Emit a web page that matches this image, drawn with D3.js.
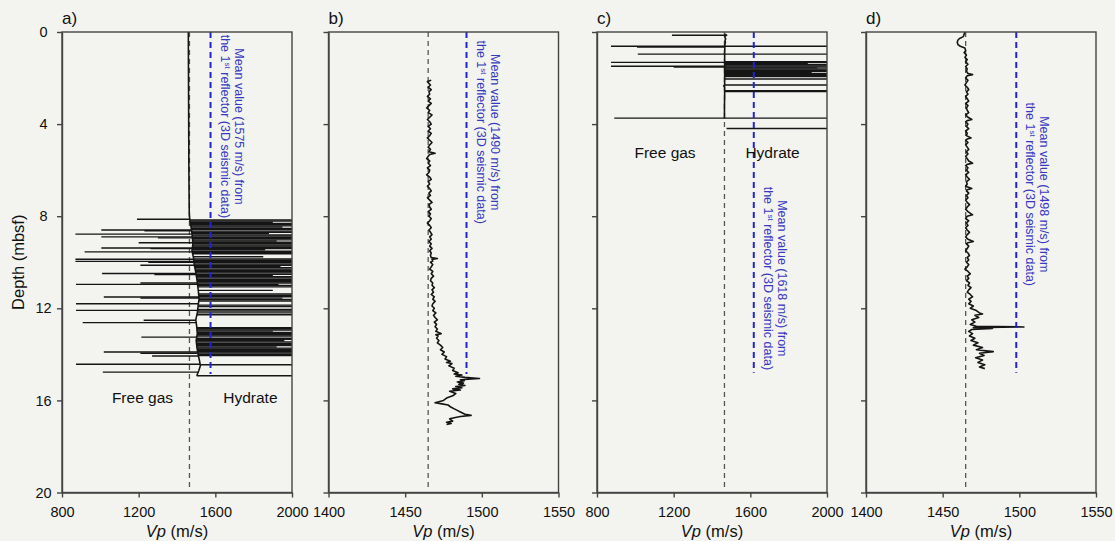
<!DOCTYPE html>
<html>
<head>
<meta charset="utf-8">
<script src="https://cdn.jsdelivr.net/npm/d3@7"></script>
<style>
  html, body { margin: 0; padding: 0; background: #f3f4f0; }
  svg { display: block; font-family: "Liberation Sans", Arial, Helvetica, sans-serif; }
</style>
</head>
<body>
<svg id="chart" width="1115" height="541"></svg>
<script>
// ---------------- data ----------------
const panelLetters = ["a)", "b)", "c)", "d)"];
const depthTicks = [0, 4, 8, 12, 16, 20];
const vpDomainWide = [800, 2000];
const vpDomainNarrow = [1400, 1550];
const vpTicksWide = [800, 1200, 1600, 2000];
const vpTicksNarrow = [1400, 1450, 1500, 1550];
const waterVp = 1465;                       // grey dashed reference velocity
const meanVp = [1575, 1490, 1618, 1498];    // mean value from the 1st reflector
const meanDepthEnd = [14.85, 14.85, 14.8, 14.8];
const zoneLabels = ["Free gas", "Hydrate"];

// panel a: velocity log trend [depth, Vp]
const logA = [[0,1459],[1,1459.5],[2,1460],[3,1460.5],[4,1461],[5,1461.5],[6,1462],[7,1463],[7.9,1464],
  [8.1,1466],[8.3,1470],[8.6,1476],[8.9,1480],[9.2,1483],[9.5,1478],[9.8,1486],[10.1,1490],[10.4,1497],
  [10.7,1503],[11.0,1508],[11.3,1512],[11.6,1515],[11.9,1510],[12.2,1506],[12.5,1498],[12.8,1503],
  [13.1,1506],[13.4,1500],[13.7,1504],[14.0,1510],[14.3,1518],[14.5,1522],[14.7,1514],[14.93,1503]];

// panel a: log spikes [depth, Vp at log, Vp at spike tip]
const spikesA = [
  [8.13,1467,1191],[8.60,1476,1005],[8.63,1476,1230],[8.78,1478,870],[8.90,1480,1005],[8.94,1480,1300],
  [9.15,1482,1200],[9.38,1480,1005],[9.41,1480,1262],[9.55,1479,918],[9.87,1486,870],[9.96,1488,870],
  [10.00,1489,1250],[10.13,1490,1209],[10.49,1498,1009],[10.53,1499,1282],[10.90,1506,1209],[10.96,1507,873],
  [11.51,1514,1018],[11.55,1514,1209],[11.80,1512,873],[12.09,1507,873],[12.52,1499,1226],[12.62,1500,908],
  [13.25,1503,1214],[13.90,1505,1018],[13.95,1506,1209],[14.07,1511,1270],[14.43,1521,873],[14.77,1512,1013],
  [8.16,1467,2200],[8.21,1468,2200],[8.26,1469,1900],[8.31,1470,2200],[8.37,1471,2200],[8.42,1472,2200],
  [8.47,1473,1950],[8.53,1474,2200],[8.58,1475,2200],[8.65,1476,2200],[8.70,1477,2200],[8.75,1478,1880],
  [8.81,1478,2200],[8.86,1479,2200],[8.92,1480,2200],[8.97,1481,2200],[9.03,1481,2200],[9.08,1482,1920],
  [9.13,1482,2200],[9.19,1483,2200],[9.25,1482,2200],[9.30,1481,2200],[9.35,1480,2200],[9.41,1480,2200],
  [9.46,1479,1860],[9.52,1478,2200],[9.58,1479,2200],[9.63,1481,2200],[9.76,1484,1850],
  [9.86,1486,2200],[9.91,1487,2200],[9.97,1488,2200],[10.02,1489,2200],[10.08,1490,2200],[10.13,1490,2200],
  [10.19,1491,1940],[10.24,1493,2200],[10.30,1494,2200],[10.35,1495,2200],[10.41,1496,2200],[10.46,1497,2200],
  [10.52,1499,2200],[10.57,1500,1900],[10.63,1501,2200],[10.68,1502,2200],[10.74,1504,2200],[10.79,1505,2200],
  [10.85,1506,2200],[10.90,1506,2200],[10.96,1507,1930],[11.01,1508,2200],[11.07,1509,2200],[11.22,1510,1900],
  [11.38,1512,2200],[11.44,1513,2200],[11.50,1514,2200],[11.56,1515,1950],[11.62,1515,2200],[11.68,1514,2200],
  [11.86,1511,2200],[11.92,1510,2200],[12.05,1508,2200],[12.12,1507,2200],[12.20,1506,2200],[12.28,1504,2200],
  [12.84,1503,2200],[12.89,1504,2200],[12.94,1504,2200],[12.99,1505,1900],[13.05,1505,2200],[13.10,1506,2200],
  [13.15,1505,2200],[13.20,1504,2200],[13.30,1502,2200],[13.35,1501,2200],[13.41,1500,1960],[13.46,1500,2200],
  [13.52,1501,2200],[13.57,1502,2200],[13.62,1503,2200],[13.68,1503,1920],[13.73,1504,2200],[13.78,1505,2200],
  [13.84,1506,2200],[13.89,1507,2200],[13.94,1507,2200],[14.00,1510,2200],[14.05,1511,2200],[14.45,1521,2200],
  [14.93,1503,2200]];

// panel b: velocity log [depth, Vp]
const logB = [[2.10,1467],[2.15,1464.5],[2.2,1465],[2.3,1466.5],[2.4,1465],[2.5,1467],[2.6,1465.5],[2.7,1466],
  [2.8,1464.5],[2.9,1466.5],[3.0,1465],[3.1,1467],[3.2,1465.5],[3.3,1464],[3.4,1466],[3.5,1465],[3.6,1467.5],
  [3.7,1466],[3.8,1464.5],[3.9,1466],[4.0,1467],[4.1,1465],[4.2,1466.5],[4.3,1465],[4.4,1467],[4.5,1466],
  [4.6,1464.5],[4.7,1466],[4.8,1467.5],[4.9,1466],[5.0,1465],[5.1,1466.5],[5.2,1465.5],[5.27,1469.5],[5.32,1466],
  [5.4,1465],[5.5,1464],[5.6,1466],[5.7,1465],[5.8,1466.5],[5.9,1464.5],[6.0,1466],[6.1,1465.5],[6.2,1464],
  [6.3,1466],[6.4,1467],[6.5,1465],[6.6,1466],[6.7,1464.5],[6.8,1466],[6.9,1467],[7.0,1465.5],[7.1,1466.5],
  [7.2,1464.5],[7.3,1466],[7.4,1467.5],[7.5,1465.5],[7.6,1466],[7.7,1467],[7.8,1465],[7.9,1466.5],[8.0,1465.5],
  [8.1,1467],[8.2,1466],[8.3,1464.5],[8.4,1466],[8.5,1467],[8.6,1465.5],[8.7,1466.5],[8.8,1467.5],[8.9,1466],
  [9.0,1467],[9.1,1465.5],[9.2,1467],[9.3,1466],[9.4,1467.5],[9.5,1466],[9.6,1467],[9.7,1466.5],[9.8,1467],
  [9.84,1471],[9.88,1467.5],[9.95,1468],[10.0,1466.5],[10.1,1468],[10.2,1467],[10.3,1466],[10.4,1468],[10.5,1467],
  [10.6,1468.5],[10.7,1467],[10.8,1466.5],[10.9,1468],[11.0,1467.5],[11.1,1469],[11.2,1467.5],[11.3,1468.5],
  [11.4,1467],[11.5,1469],[11.6,1468],[11.7,1469.5],[11.8,1468],[11.9,1467.5],[12.0,1469],[12.1,1468],[12.2,1470],
  [12.3,1468.5],[12.4,1469.5],[12.5,1471],[12.6,1469],[12.7,1470.5],[12.8,1469.5],[12.9,1471],[13.0,1470],
  [13.1,1473.5],[13.15,1470],[13.2,1471.5],[13.3,1470.5],[13.4,1472],[13.5,1471],[13.6,1473],[13.7,1474.5],
  [13.8,1473],[13.9,1475.5],[14.0,1474],[14.1,1477],[14.2,1476],[14.3,1479.5],[14.35,1477],[14.4,1480.5],
  [14.5,1478.5],[14.6,1482],[14.7,1481],[14.8,1484.5],[14.85,1482],[14.9,1487],[14.95,1483],[15.0,1489],
  [15.05,1498.5],[15.1,1486],[15.15,1488.5],[15.2,1484],[15.25,1488],[15.3,1485],[15.35,1489],[15.4,1483],
  [15.45,1487],[15.5,1481],[15.55,1486],[15.6,1479],[15.7,1483],[15.8,1481],[15.9,1477],[16.0,1475],[16.1,1469.5],
  [16.15,1474],[16.2,1478],[16.3,1480],[16.4,1483],[16.5,1486],[16.6,1489],[16.65,1493],[16.7,1486],[16.75,1482],
  [16.8,1479],[16.9,1481],[16.95,1477],[17.0,1480],[17.05,1477]];

// panel c: velocity log trend and spikes
const logC = [[0.08,1469],[0.12,1472],[0.14,1476],[0.16,1470],[0.22,1467],[0.30,1471],[0.38,1468],[0.45,1470],
  [0.55,1467],[0.70,1467],[0.90,1466],[1.20,1466],[1.60,1466],[2.00,1466],[2.30,1466],[2.34,1461],[2.38,1466],
  [2.80,1466],[3.20,1465],[3.76,1465]];
const spikesC = [
  [0.14,1474,1191],[0.62,1467,873],[0.65,1467,1009],[0.96,1466,1013],[1.32,1466,873],[1.49,1466,873],
  [1.52,1466,1200],[3.74,1465,890],
  [0.62,1467,2200],[0.96,1466,2200],[1.29,1466,2200],[1.33,1466,2200],[1.38,1466,1900],[1.42,1466,2200],
  [1.47,1466,2200],[1.52,1466,2200],[1.56,1466,1950],[1.61,1466,2200],[1.66,1466,2200],[1.71,1466,2200],
  [1.76,1466,1920],[1.80,1466,2200],[1.85,1466,2200],[1.90,1466,2200],[1.94,1466,2200],[2.04,1466,2200],
  [2.30,1466,2200],[2.55,1466,2200],[2.59,1466,2200],[3.74,1465,2200],[4.19,1476,2200]];

// panel d: velocity log [depth, Vp]
const logD = [[0.00,1464.5],[0.10,1464],[0.20,1463.5],[0.28,1461],[0.35,1460],[0.45,1459.5],[0.55,1460],
  [0.62,1461.5],[0.70,1464.5],[0.80,1465],[0.90,1464],[1.00,1465.5],[1.10,1464.5],[1.20,1466],[1.30,1465],
  [1.40,1466.5],[1.50,1465],[1.60,1466],[1.70,1465.5],[1.80,1466.5],[1.85,1469.5],[1.90,1466],[2.00,1465],
  [2.10,1466.5],[2.20,1465.5],[2.30,1464.5],[2.40,1466],[2.50,1467],[2.60,1465.5],[2.70,1466.5],[2.80,1465],
  [2.90,1466],[3.00,1467],[3.10,1465],[3.20,1466.5],[3.30,1465.5],[3.40,1466],[3.50,1467],[3.60,1465],
  [3.70,1466.5],[3.80,1469],[3.85,1466],[3.90,1465],[4.00,1466.5],[4.10,1465.5],[4.20,1467],[4.30,1465],
  [4.40,1466],[4.50,1465.5],[4.60,1468.5],[4.65,1466],[4.70,1465],[4.80,1466.5],[4.90,1465],[5.00,1466],
  [5.10,1467],[5.20,1465.5],[5.30,1466.5],[5.40,1465],[5.50,1466],[5.60,1467],[5.70,1469.5],[5.75,1466],
  [5.80,1465],[5.90,1466.5],[6.00,1465.5],[6.10,1467],[6.20,1465],[6.30,1466],[6.40,1467.5],[6.50,1465.5],
  [6.60,1466],[6.70,1465],[6.80,1469],[6.85,1466],[6.90,1465.5],[7.00,1467],[7.10,1465.5],[7.20,1466.5],
  [7.30,1465],[7.40,1466],[7.50,1467.5],[7.60,1466],[7.70,1465],[7.80,1466.5],[7.94,1469.5],[8.00,1466],
  [8.10,1465],[8.20,1467],[8.30,1465.5],[8.40,1466.5],[8.50,1465],[8.60,1466],[8.70,1467.5],[8.80,1466],
  [8.90,1465],[9.00,1466.5],[9.10,1470],[9.15,1466.5],[9.20,1465.5],[9.30,1467],[9.40,1466],[9.50,1465],
  [9.60,1466.5],[9.70,1467.5],[9.80,1466],[9.90,1467],[10.00,1465.5],[10.10,1467],[10.20,1466],[10.30,1464.5],
  [10.40,1466.5],[10.50,1468],[10.60,1466],[10.70,1467],[10.80,1465.5],[10.90,1467.5],[11.00,1466.5],
  [11.10,1468.5],[11.20,1467],[11.30,1466],[11.40,1468],[11.50,1469.5],[11.60,1467],[11.70,1468.5],[11.80,1467],
  [11.90,1470],[12.00,1468],[12.10,1472],[12.20,1474],[12.25,1476],[12.30,1471],[12.40,1473.5],[12.50,1469],
  [12.60,1471],[12.70,1468],[12.78,1472],[12.81,1503],[12.84,1470],[12.88,1482.5],[12.92,1469],[13.00,1467],
  [13.10,1469.5],[13.20,1467.5],[13.30,1471],[13.40,1468.5],[13.50,1473],[13.60,1470],[13.70,1476],[13.80,1472],
  [13.88,1483],[13.95,1474],[14.05,1477],[14.15,1471.5],[14.25,1476],[14.35,1473],[14.45,1477.5],[14.55,1474],
  [14.62,1477.5]];

// ---------------- layout ----------------
const W = 1115, H = 541;
const plotTop = 32, plotBottom = 492.5;
const panelLeft = [62, 328.5, 597, 866];
const panelW = 230;
const axisColor = "#444";
const inkColor = "#151515";
const blue = "#2424cf";
const blueText = "#3838c2";

const panels = [
  { domain: vpDomainWide,   ticks: vpTicksWide,   log: logA, spikes: spikesA, textDepth: 4.1,  zones: { depth: 16.13, at: [1220, 1783] } },
  { domain: vpDomainNarrow, ticks: vpTicksNarrow, log: logB, spikes: [],      textDepth: 4.35, zones: null },
  { domain: vpDomainWide,   ticks: vpTicksWide,   log: logC, spikes: spikesC, textDepth: 10.7, zones: { depth: 5.48, at: [1155, 1716] } },
  { domain: vpDomainNarrow, ticks: vpTicksNarrow, log: logD, spikes: [],      textDepth: 7.05, zones: null }
];

const svg = d3.select("#chart");
svg.append("rect").attr("width", W).attr("height", H).attr("fill", "#f3f4f0");
const defs = svg.append("defs");

const y = d3.scaleLinear().domain([0, 20]).range([plotTop, plotBottom]);

panels.forEach((p, i) => {
  const x = d3.scaleLinear().domain(p.domain).range([panelLeft[i], panelLeft[i] + panelW]);
  const g = svg.append("g");

  defs.append("clipPath").attr("id", "plot-clip-" + i)
    .append("rect")
    .attr("x", panelLeft[i]).attr("y", plotTop)
    .attr("width", panelW).attr("height", plotBottom - plotTop);

  const plot = g.append("g").attr("clip-path", `url(#plot-clip-${i})`);

  // reference velocity (dashed grey)
  plot.append("line")
    .attr("x1", x(waterVp)).attr("x2", x(waterVp))
    .attr("y1", y(0)).attr("y2", y(19.8))
    .attr("stroke", "#555").attr("stroke-width", 1.3)
    .attr("stroke-dasharray", "5,4");

  // log spikes
  plot.selectAll("line.spike").data(p.spikes).join("line")
    .attr("class", "spike")
    .attr("x1", d => x(d[1])).attr("x2", d => x(d[2]))
    .attr("y1", d => y(d[0])).attr("y2", d => y(d[0]))
    .attr("stroke", inkColor).attr("stroke-width", 1.4);

  // velocity log
  plot.append("path").datum(p.log)
    .attr("d", d3.line().x(d => x(d[1])).y(d => y(d[0])))
    .attr("fill", "none").attr("stroke", inkColor).attr("stroke-width", 1.6)
    .attr("stroke-linejoin", "round");

  // mean value from the 1st reflector (dashed blue)
  plot.append("line")
    .attr("x1", x(meanVp[i])).attr("x2", x(meanVp[i]))
    .attr("y1", y(0)).attr("y2", y(meanDepthEnd[i]))
    .attr("stroke", blue).attr("stroke-width", 2)
    .attr("stroke-dasharray", "6,4");

  // rotated annotation
  const tg = g.append("g")
    .attr("transform", `translate(${x(meanVp[i])},${y(p.textDepth)}) rotate(90)`)
    .attr("fill", blueText).attr("font-size", 12.5).attr("text-anchor", "middle");
  tg.append("text").attr("x", 0).attr("y", -24)
    .text(`Mean value (${meanVp[i]} m/s) from`);
  const t2 = tg.append("text").attr("x", 0).attr("y", -10);
  t2.append("tspan").text("the 1");
  t2.append("tspan").attr("font-size", 8).attr("dy", -4).text("st");
  t2.append("tspan").attr("dy", 4).text(" reflector (3D seismic data)");

  // zone labels
  if (p.zones) {
    zoneLabels.forEach((lab, k) => {
      g.append("text")
        .attr("x", x(p.zones.at[k])).attr("y", y(p.zones.depth))
        .attr("text-anchor", "middle").attr("font-size", 15.5).attr("fill", "#111")
        .text(lab);
    });
  }

  // frame
  g.append("rect")
    .attr("x", panelLeft[i]).attr("y", plotTop)
    .attr("width", panelW).attr("height", plotBottom - plotTop)
    .attr("fill", "none").attr("stroke", axisColor).attr("stroke-width", 1.4);

  // x axis
  const xa = g.append("g").attr("transform", `translate(0,${plotBottom})`)
    .call(d3.axisBottom(x).tickValues(p.ticks).tickSize(5).tickSizeOuter(0).tickPadding(9).tickFormat(d3.format("d")));
  xa.attr("font-family", null);
  xa.select(".domain").attr("stroke", axisColor).attr("stroke-width", 1.4);
  xa.selectAll(".tick line").attr("stroke", axisColor).attr("stroke-width", 1.4);
  xa.selectAll(".tick text").attr("font-size", 14.5).attr("fill", "#111");

  // y axis
  const ya = g.append("g").attr("transform", `translate(${panelLeft[i]},0)`)
    .call(d3.axisLeft(y).tickValues(depthTicks).tickSize(5).tickSizeOuter(0)
      .tickFormat(i === 0 ? d3.format("d") : () => ""));
  ya.attr("font-family", null);
  ya.select(".domain").attr("stroke", axisColor).attr("stroke-width", 1.4);
  ya.selectAll(".tick line").attr("stroke", axisColor).attr("stroke-width", 1.4);
  ya.selectAll(".tick text")
    .attr("font-size", 14.5).attr("fill", "#111")
    .attr("text-anchor", "middle").attr("x", 43.5 - panelLeft[i]);

  // x axis title
  const xt = g.append("text")
    .attr("x", panelLeft[i] + panelW / 2).attr("y", 537)
    .attr("text-anchor", "middle").attr("font-size", 16.5).attr("fill", "#111");
  xt.append("tspan").attr("font-style", "italic").text("Vp");
  xt.append("tspan").text(" (m/s)");

  // panel letter
  g.append("text")
    .attr("x", panelLeft[i]).attr("y", 24)
    .attr("font-size", 17).attr("fill", "#111")
    .text(panelLetters[i]);
});

// depth axis title
svg.append("text")
  .attr("transform", `translate(24,${(plotTop + plotBottom) / 2}) rotate(-90)`)
  .attr("text-anchor", "middle").attr("font-size", 16.5).attr("fill", "#111")
  .text("Depth (mbsf)");
</script>
</body>
</html>
